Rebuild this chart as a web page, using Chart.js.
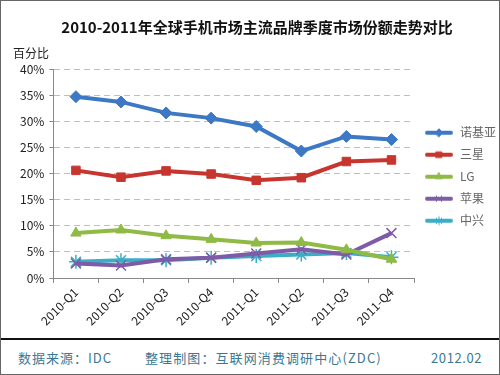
<!DOCTYPE html>
<html>
<head>
<meta charset="utf-8">
<script src="https://cdn.jsdelivr.net/npm/chart.js@4"></script>
<style>
    body { margin: 0; background: #fff; font-family: "Noto Sans CJK SC", "Noto Sans", sans-serif; }
    #frame { width: 500px; height: 375px; box-sizing: border-box; border: 1px solid #666; position: relative; }
    #chartBox { width: 498px; height: 337px; }
    #footer { height: 35px; border-top: 2px solid #111; position: relative; color: #3a7894; font-size: 13px; }
    #footer span { position: absolute; top: 8px; }
</style>
</head>
<body>
<div id="frame">
    <div id="chartBox"><canvas id="shareChart" width="498" height="337"></canvas></div>
    <div id="footer">
        <span style="left:17px; letter-spacing:1px">数据来源：IDC</span>
        <span style="left:144px; letter-spacing:1.1px">整理制图：互联网消费调研中心(ZDC)</span>
        <span style="left:430px; letter-spacing:0.6px">2012.02</span>
    </div>
</div>
<script>
// quarters
const quarters = ['2010-Q1', '2010-Q2', '2010-Q3', '2010-Q4', '2011-Q1', '2011-Q2', '2011-Q3', '2011-Q4'];
const yTicks = [0, 5, 10, 15, 20, 25, 30, 35, 40];

// market share (%)
const nokia   = [34.7, 33.7, 31.6, 30.6, 29.0, 24.3, 27.1, 26.5];
const samsung = [20.6, 19.3, 20.5, 19.9, 18.7, 19.2, 22.3, 22.6];
const lg      = [8.6, 9.2, 8.1, 7.4, 6.7, 6.8, 5.4, 3.6];
const apple   = [2.8, 2.4, 3.6, 3.9, 4.7, 5.5, 4.5, 8.6];
const zte     = [3.1, 3.4, 3.4, 3.9, 4.2, 4.5, 4.8, 4.0];

const seriesNames = ['诺基亚', '三星', 'LG', '苹果', '中兴'];
const colors = ['#3d78c4', '#c7352f', '#8fba45', '#7e5ba6', '#3aaec6'];
const markers = ['rectRot', 'rect', 'triangle', 'crossRot', 'star'];

// legend icon: short line with the marker in the middle
function legendIcon(color, style) {
    const c = document.createElement('canvas');
    c.width = 30;
    c.height = 12;
    const ctx = c.getContext('2d');
    ctx.strokeStyle = color;
    ctx.lineWidth = 4;
    ctx.lineCap = 'round';
    ctx.beginPath();
    ctx.moveTo(3, 6);
    ctx.lineTo(27, 6);
    ctx.stroke();
    ctx.fillStyle = color;
    ctx.lineWidth = 1;
    Chart.helpers.drawPoint(ctx, { pointStyle: style, radius: 4, rotation: 0, borderWidth: 1 }, 15, 6);
    return c;
}

const percentLabel = {
    id: 'percentLabel',
    afterDraw(chart) {
        const ctx = chart.ctx;
        ctx.save();
        ctx.fillStyle = '#222';
        ctx.font = '12px "Noto Sans CJK SC"';
        ctx.textBaseline = 'middle';
        ctx.fillText('百分比', 12, 52);
        ctx.restore();
    }
};

function makeSet(i, data) {
    const hollow = markers[i] === 'crossRot' || markers[i] === 'star';
    return {
        label: seriesNames[i],
        data: data,
        borderColor: colors[i],
        backgroundColor: colors[i],
        borderWidth: 4,
        pointStyle: markers[i],
        pointRadius: hollow ? 7 : 6,
        pointBorderWidth: hollow ? 1.5 : 1,
        pointBackgroundColor: colors[i],
        pointBorderColor: colors[i],
        tension: 0
    };
}

const chart = new Chart(document.getElementById('shareChart'), {
    type: 'line',
    data: {
        labels: quarters,
        datasets: [
            makeSet(0, nokia),
            makeSet(1, samsung),
            makeSet(2, lg),
            makeSet(3, apple),
            makeSet(4, zte)
        ]
    },
    options: {
        responsive: false,
        animation: false,
        layout: { padding: { left: 14, right: 0, bottom: 8 } },
        plugins: {
            title: {
                display: true,
                text: '2010-2011年全球手机市场主流品牌季度市场份额走势对比',
                color: '#111',
                font: { family: '"Noto Sans CJK SC"', size: 15, weight: 'bold' },
                padding: { top: 17, bottom: 33 }
            },
            legend: {
                position: 'right',
                maxWidth: 85,
                title: { display: true, text: ' ', padding: { top: 4, bottom: 4 } },
                labels: {
                    usePointStyle: true,
                    pointStyleWidth: 30,
                    padding: 10,
                    color: '#111',
                    font: { family: '"Noto Sans CJK SC"', size: 12 },
                    generateLabels(ch) {
                        return ch.data.datasets.map((ds, i) => ({
                            text: ds.label,
                            pointStyle: legendIcon(colors[i], markers[i]),
                            fillStyle: colors[i],
                            strokeStyle: colors[i],
                            lineWidth: 0,
                            datasetIndex: i,
                            hidden: false
                        }));
                    }
                }
            },
            tooltip: { enabled: false }
        },
        scales: {
            x: {
                offset: true,
                grid: { display: true, drawOnChartArea: false, offset: true, tickLength: 5, color: '#888' },
                border: { color: '#888', width: 1 },
                ticks: {
                    color: '#222',
                    font: { family: '"Noto Sans CJK SC"', size: 12 },
                    minRotation: 45,
                    maxRotation: 45,
                    padding: 2
                }
            },
            y: {
                min: 0,
                max: 40,
                afterBuildTicks(axis) {
                    axis.ticks = yTicks.map(v => ({ value: v }));
                },
                grid: { color: '#b4bfd0', tickLength: 4, tickColor: '#888', tickBorderDash: [] },
                border: { color: '#888', width: 1, dash: [6, 4] },
                ticks: {
                    color: '#222',
                    font: { family: '"Noto Sans CJK SC"', size: 12 },
                    callback: v => v + '%',
                    padding: 5
                }
            }
        }
    },
    plugins: [percentLabel]
});
</script>
</body>
</html>
